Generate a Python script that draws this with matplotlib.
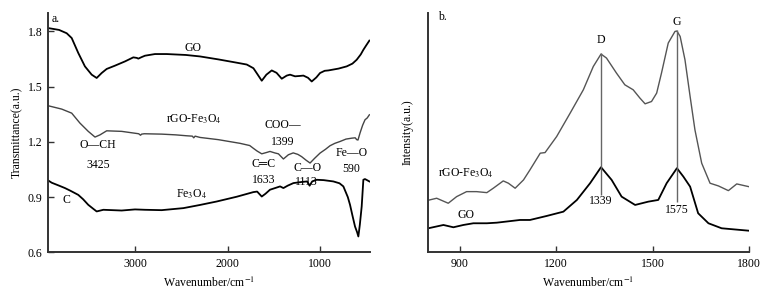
import matplotlib
matplotlib.use("Agg")
import matplotlib.pyplot as plt

plt.rcParams['font.family'] = ['Liberation Serif', 'DejaVu Sans']
plt.rcParams['mathtext.fontset'] = 'stix'

# ---------------- Panel a: FTIR ----------------
go_ir_wn = [3937, 3820, 3738, 3684, 3613, 3541, 3468, 3414, 3360, 3306, 3216, 3108, 3018, 2980, 2964,
            2930, 2892, 2784, 2657, 2450, 2297, 2100, 1900, 1792, 1720, 1680, 1630, 1580, 1522, 1470,
            1414, 1360, 1324, 1270, 1220, 1180, 1130, 1090, 1040, 1000, 950, 910, 800, 712, 650, 604,
            560, 532, 500, 467]
go_ir_t = [1.818, 1.808, 1.79, 1.764, 1.683, 1.61, 1.565, 1.547, 1.574, 1.596, 1.614, 1.637, 1.659, 1.656, 1.652,
           1.66, 1.668, 1.677, 1.677, 1.672, 1.664, 1.648, 1.63, 1.62, 1.60, 1.57, 1.532, 1.565, 1.588, 1.575,
           1.543, 1.56, 1.565, 1.556, 1.558, 1.56, 1.548, 1.528, 1.55, 1.574, 1.586, 1.588, 1.598, 1.61, 1.625, 1.646,
           1.675, 1.70, 1.725, 1.75]

rgo_ir_wn = [3937, 3792, 3684, 3595, 3505, 3432, 3378, 3306, 3144, 2960, 2940, 2928, 2900, 2712, 2560,
             2441, 2380, 2365, 2350, 2297, 2100, 1865, 1760, 1721, 1680, 1630, 1580, 1541, 1490, 1450,
             1396, 1342, 1290, 1240, 1200, 1150, 1108, 1060, 1000, 940, 892, 840, 784, 720, 658, 620,
             604, 590, 568, 540, 514, 490, 467]
rgo_ir_t = [1.396, 1.378, 1.356, 1.302, 1.257, 1.226, 1.238, 1.26, 1.257, 1.244, 1.236, 1.242, 1.244, 1.242, 1.238,
            1.233, 1.231, 1.222, 1.231, 1.224, 1.212, 1.192, 1.18, 1.165, 1.15, 1.135, 1.142, 1.148, 1.14, 1.135,
            1.107, 1.13, 1.14, 1.132, 1.12, 1.1, 1.085, 1.11, 1.139, 1.16, 1.179, 1.192, 1.202, 1.215, 1.22, 1.222,
            1.212, 1.21, 1.248, 1.29, 1.32, 1.33, 1.347]

fe_ir_wn = [3937, 3900, 3860, 3820, 3757, 3700, 3613, 3560, 3505, 3450, 3414, 3342, 3144, 3000, 2892,
            2712, 2477, 2300, 2117, 1900, 1721, 1680, 1630, 1590, 1541, 1480, 1432, 1396, 1350, 1288,
            1200, 1140, 1113, 1085, 1036, 960, 856, 790, 748, 700, 676, 650, 622, 600, 586, 570,
            550, 532, 515, 496, 467]
fe_ir_t = [0.99, 0.978, 0.97, 0.962, 0.949, 0.935, 0.912, 0.888, 0.858, 0.836, 0.822, 0.831, 0.827, 0.833, 0.831,
           0.829, 0.84, 0.857, 0.876, 0.902, 0.927, 0.93, 0.903, 0.918, 0.94, 0.95, 0.958, 0.949, 0.962, 0.976,
           0.982, 0.985, 0.962, 0.985, 0.994, 0.992, 0.985, 0.975, 0.958, 0.9, 0.858, 0.8, 0.74, 0.71, 0.686, 0.75,
           0.849, 0.994, 0.998, 0.993, 0.985]

# ---------------- Panel b: Raman ----------------
rgo_ra_wn = [802, 828, 864, 890, 921, 952, 984, 1004, 1035, 1051, 1072, 1098, 1118, 1150, 1165, 1201,
             1243, 1284, 1315, 1339, 1356, 1387, 1413, 1439, 1460, 1476, 1496, 1512, 1527, 1548, 1569,
             1575, 1585, 1600, 1616, 1631, 1652, 1678, 1704, 1735, 1761, 1798]
rgo_ra_i = [52, 54, 49, 55.6, 60.6, 60.6, 59.6, 64, 71.3, 69, 64, 72.3, 82.3, 99, 99.6, 115.6,
            139, 162.3, 185.6, 198, 194, 179, 167.3, 162.3, 154, 148.3, 150.6, 159, 179, 209, 220.6,
            221, 215.6, 192.3, 155.6, 122.3, 89, 69, 66.3, 61.6, 68.3, 65.6]

go_ra_wn = [802, 849, 880, 911, 942, 984, 1015, 1087, 1118, 1170, 1222, 1264, 1305, 1339,
            1372, 1403, 1445, 1486, 1517, 1543, 1575, 1595, 1616, 1641, 1673, 1714, 1798]
go_ra_i = [24, 27.3, 25, 27.3, 29, 29, 29.6, 32.3, 32.3, 36.3, 40.6, 52.3, 69, 85,
           72.3, 55.6, 47.3, 50.6, 52.3, 69, 84, 75.6, 65.6, 39, 29, 24, 21.6]

peak_wn = [1339, 1575]
peak_names = ['D', 'G']

fig = plt.figure(figsize=(7.78, 2.94), dpi=100)
axa = fig.add_axes([0.0617, 0.1418, 0.4139, 0.814])
axb = fig.add_axes([0.5497, 0.1418, 0.4134, 0.814])

fs = 8.5
spine_c = '#333333'

# Panel a
axa.plot(go_ir_wn, go_ir_t, color='black', lw=1.3)
axa.plot(rgo_ir_wn, rgo_ir_t, color='#444444', lw=1.0)
axa.plot(fe_ir_wn, fe_ir_t, color='black', lw=1.3)
axa.set_xlim(3940, 460)
axa.set_ylim(0.6, 1.9)
axa.set_xticks([3000, 2000, 1000])
axa.set_yticks([0.6, 0.9, 1.2, 1.5, 1.8])
axa.set_yticklabels(['0.6', '0.9', '1.2', '1.5', '1.8'])
axa.set_xlabel('Wavenumber/cm$^{-1}$', fontsize=fs)
axa.set_ylabel('Transmittance(a.u.)', fontsize=fs, labelpad=3)

txt = dict(fontsize=fs, ha='center', va='center')
axa.text(3860, 1.87, 'a.', **txt)
axa.text(2370, 1.71, 'GO', **txt)
axa.text(2362, 1.325, 'rGO-Fe$_3$O$_4$', **txt)
axa.text(1400, 1.293, 'COO—', **txt)
axa.text(1400, 1.20, '1399', **txt)
axa.text(3400, 1.184, 'O—CH', **txt)
axa.text(3400, 1.075, '3425', **txt)
axa.text(1614, 1.08, 'C═C', **txt)
axa.text(1614, 0.995, '1633', **txt)
axa.text(1130, 1.058, 'C—O', **txt)
axa.text(1150, 0.98, '1113', **txt)
axa.text(654, 1.14, 'Fe—O', **txt)
axa.text(660, 1.053, '590', **txt)
axa.text(2384, 0.915, 'Fe$_3$O$_4$', **txt)
axa.text(3746, 0.885, 'C', **txt)

# Panel b
axb.plot(rgo_ra_wn, rgo_ra_i, color='#555555', lw=1.0)
axb.plot(go_ra_wn, go_ra_i, color='black', lw=1.3)
axb.vlines(peak_wn[0], 57, 199, color='#666666', lw=1.0)
axb.vlines(peak_wn[1], 50, 222, color='#666666', lw=1.0)
axb.set_xlim(800, 1800)
axb.set_ylim(0, 239)
axb.set_xticks([900, 1200, 1500, 1800])
axb.set_yticks([])
axb.set_xlabel('Wavenumber/cm$^{-1}$', fontsize=fs)
axb.set_ylabel('Intensity(a.u.)', fontsize=fs, labelpad=10)
axb.text(845, 235, 'b.', **txt)
axb.text(peak_wn[0], 212, peak_names[0], **txt)
axb.text(peak_wn[1], 229.6, peak_names[1], **txt)
axb.text(peak_wn[0], 51, str(peak_wn[0]), **txt)
axb.text(peak_wn[1], 42, str(peak_wn[1]), **txt)
axb.text(919, 79, 'rGO-Fe$_3$O$_4$', **txt)
axb.text(919, 37, 'GO', **txt)

for ax in (axa, axb):
    for s in ('top', 'right'):
        ax.spines[s].set_visible(False)
    for s in ('left', 'bottom'):
        ax.spines[s].set_color(spine_c)
        ax.spines[s].set_linewidth(1.4)
    ax.tick_params(direction='in', length=4, width=1.0, labelsize=fs, color=spine_c, pad=4)

fig.savefig('out.png', dpi=100)
